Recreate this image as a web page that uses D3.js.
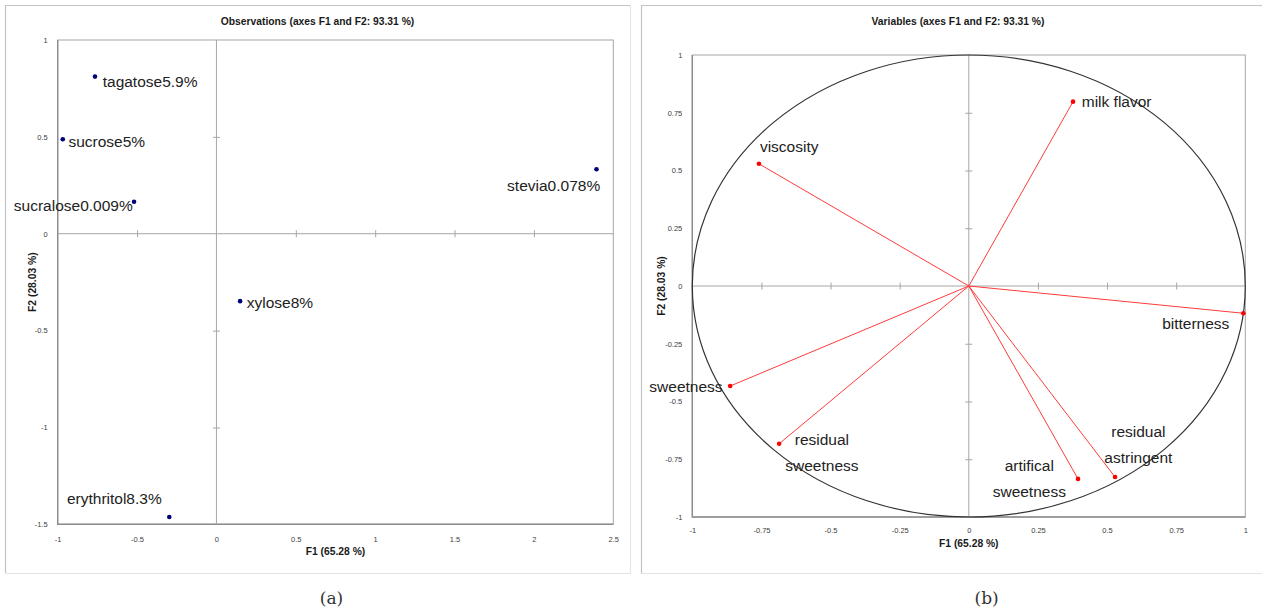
<!DOCTYPE html>
<html>
<head>
<meta charset="utf-8">
<script src="https://cdn.jsdelivr.net/npm/d3@7/dist/d3.min.js"></script>
<style>
  body { margin: 0; background: #fff; }
  svg { display: block; }
</style>
</head>
<body>
<svg id="chart" width="1262" height="614"></svg>
<script>
// ---- panel (a): observations ----
const obsNames = ["tagatose5.9%", "sucrose5%", "sucralose0.009%", "stevia0.078%", "xylose8%", "erythritol8.3%"];
const obsF1 = [-0.765, -0.968, -0.519, 2.394, 0.149, -0.297];
const obsF2 = [0.811, 0.488, 0.165, 0.333, -0.348, -1.462];
const obsXTicks = [-1, -0.5, 0, 0.5, 1, 1.5, 2, 2.5];
const obsYTicks = [1, 0.5, 0, -0.5, -1, -1.5];

// ---- panel (b): variables ----
const varNames = [["viscosity"], ["milk flavor"], ["bitterness"], ["sweetness"],
  ["residual", "sweetness"], ["artifical", "sweetness"], ["residual", "astringent"]];
const varF1 = [-0.759, 0.377, 0.993, -0.863, -0.686, 0.395, 0.529];
const varF2 = [0.529, 0.798, -0.118, -0.433, -0.683, -0.835, -0.827];
const varTicks = [-1, -0.75, -0.5, -0.25, 0, 0.25, 0.5, 0.75, 1];

const chartTitles = ["Observations (axes F1 and F2: 93.31 %)", "Variables (axes F1 and F2: 93.31 %)"];
const axisTitles = ["F1 (65.28 %)", "F2 (28.03 %)"];
const captions = ["(a)", "(b)"];

// label placement (pixels relative to the point)
const obsLabelPos = [
  { dx: 7.7, dy: 10.6, anchor: "start" },
  { dx: 5.6, dy: 7.4, anchor: "start" },
  { dx: -1.3, dy: 9, anchor: "end" },
  { dx: 3.7, dy: 21.4, anchor: "end" },
  { dx: 6.7, dy: 7.3, anchor: "start" },
  { dx: -7.6, dy: -12.7, anchor: "end" }
];
const varLabelPos = [
  { dx: 1, dy: -12, anchor: "start" },
  { dx: 8.7, dy: 5.6, anchor: "start" },
  { dx: -14, dy: 15.7, anchor: "end" },
  { dx: -7.6, dy: 5.7, anchor: "end" },
  { dx: 42.8, dy: 1.3, anchor: "middle" },
  { dx: -48.7, dy: -8, anchor: "middle" },
  { dx: 23.3, dy: -40.3, anchor: "middle" }
];

const LABEL_FONT = "Arial, 'Liberation Sans', sans-serif";
const svg = d3.select("#chart");

function drawPanel(cfg) {
  const g = svg.append("g");
  const { frame, plot } = cfg;

  // outer frame
  g.append("rect")
    .attr("x", frame.x0 + 0.5).attr("y", frame.y0 + 0.5)
    .attr("width", frame.x1 - frame.x0).attr("height", frame.y1 - frame.y0)
    .attr("fill", "none").attr("stroke", "#e3e3e3");
  g.append("path")
    .attr("d", `M${frame.x0 + 0.5},${frame.y1}V${frame.y0 + 0.5}H${frame.x1}`)
    .attr("fill", "none").attr("stroke", "#c4c4c4").attr("stroke-width", 1.2);

  const x = d3.scaleLinear().domain(cfg.xDomain).range([plot.x0, plot.x1]);
  const y = d3.scaleLinear().domain(cfg.yDomain).range([plot.y1, plot.y0]);

  // plot frame
  g.append("rect")
    .attr("x", plot.x0).attr("y", plot.y0)
    .attr("width", plot.x1 - plot.x0).attr("height", plot.y1 - plot.y0)
    .attr("fill", "none").attr("stroke", "#a6a6a6").attr("stroke-width", 1);
  g.append("path")
    .attr("d", `M${plot.x0},${plot.y0}V${plot.y1}H${plot.x1}`)
    .attr("fill", "none").attr("stroke", "#8c8c8c").attr("stroke-width", 1.4);

  // zero lines
  g.append("line").attr("x1", plot.x0).attr("x2", plot.x1)
    .attr("y1", y(0)).attr("y2", y(0)).attr("stroke", "#a6a6a6");
  g.append("line").attr("x1", x(0)).attr("x2", x(0))
    .attr("y1", plot.y0).attr("y2", plot.y1).attr("stroke", "#a6a6a6");

  // tick marks crossing the zero lines
  const innerX = cfg.xTicks.filter(v => v !== 0 && v !== cfg.xDomain[0] && v !== cfg.xDomain[1]);
  const innerY = cfg.yTicks.filter(v => v !== 0 && v !== cfg.yDomain[0] && v !== cfg.yDomain[1]);
  const tx = g.append("g").attr("transform", `translate(0,${y(0) - 3.5})`)
    .call(d3.axisBottom(x).tickValues(innerX).tickSize(7).tickFormat(""));
  const ty = g.append("g").attr("transform", `translate(${x(0) + 3.5},0)`)
    .call(d3.axisLeft(y).tickValues(innerY).tickSize(7).tickFormat(""));
  [tx, ty].forEach(a => {
    a.select(".domain").remove();
    a.selectAll("line").attr("stroke", "#a6a6a6");
  });

  // tick labels
  const lx = g.append("g").attr("transform", `translate(0,${plot.y1 + cfg.xLabelGap})`)
    .call(d3.axisBottom(x).tickValues(cfg.xTicks).tickSize(0).tickFormat(d => String(d)));
  const ly = g.append("g").attr("transform", `translate(${plot.x0 - cfg.yLabelGap},0)`)
    .call(d3.axisLeft(y).tickValues(cfg.yTicks).tickSize(0).tickFormat(d => String(d)));
  [lx, ly].forEach(a => {
    a.select(".domain").remove();
    a.selectAll("text").attr("font-family", LABEL_FONT).attr("font-size", 7.5).attr("fill", "#404040");
  });

  // titles
  g.append("text")
    .attr("x", (frame.x0 + frame.x1) / 2).attr("y", 25)
    .attr("text-anchor", "middle").attr("font-family", LABEL_FONT)
    .attr("font-weight", "bold").attr("font-size", 10.3).attr("fill", "#1a1a1a")
    .text(cfg.title);
  g.append("text")
    .attr("x", (plot.x0 + plot.x1) / 2).attr("y", cfg.xTitleY)
    .attr("text-anchor", "middle").attr("font-family", LABEL_FONT)
    .attr("font-weight", "bold").attr("font-size", 10.3).attr("fill", "#1a1a1a")
    .text(axisTitles[0]);
  g.append("text")
    .attr("transform", `translate(${cfg.yTitleX},${(plot.y0 + plot.y1) / 2}) rotate(-90)`)
    .attr("text-anchor", "middle").attr("font-family", LABEL_FONT)
    .attr("font-weight", "bold").attr("font-size", 10.3).attr("fill", "#1a1a1a")
    .text(axisTitles[1]);

  // caption
  g.append("text")
    .attr("x", cfg.captionX).attr("y", 604)
    .attr("text-anchor", "middle").attr("font-family", "'DejaVu Serif', serif")
    .attr("font-size", 17).attr("fill", "#333")
    .text(cfg.caption);

  return { g, x, y };
}

// panel (a)
const pa = drawPanel({
  frame: { x0: 5, y0: 5, x1: 630, y1: 573 },
  plot: { x0: 57.7, y0: 40, x1: 613.3, y1: 524.3 },
  xDomain: [-1, 2.5], yDomain: [-1.5, 1],
  xTicks: obsXTicks, yTicks: obsYTicks,
  xLabelGap: 9, yLabelGap: 7, xTitleY: 555, yTitleX: 36,
  title: chartTitles[0], caption: captions[0], captionX: 331.5
});

const obs = obsNames.map((name, i) => ({ name, f1: obsF1[i], f2: obsF2[i], pos: obsLabelPos[i] }));
pa.g.selectAll(".obs-dot").data(obs).enter().append("circle")
  .attr("class", "obs-dot")
  .attr("cx", d => pa.x(d.f1)).attr("cy", d => pa.y(d.f2))
  .attr("r", 2.3).attr("fill", "#00007a");
pa.g.selectAll(".obs-label").data(obs).enter().append("text")
  .attr("class", "obs-label")
  .attr("x", d => pa.x(d.f1) + d.pos.dx).attr("y", d => pa.y(d.f2) + d.pos.dy)
  .attr("text-anchor", d => d.pos.anchor)
  .attr("font-family", LABEL_FONT).attr("font-size", 15.5).attr("fill", "#222")
  .text(d => d.name);

// panel (b)
const pb = drawPanel({
  frame: { x0: 641, y0: 5, x1: 1275, y1: 573 },
  plot: { x0: 692.3, y0: 55, x1: 1245.3, y1: 517 },
  xDomain: [-1, 1], yDomain: [-1, 1],
  xTicks: varTicks, yTicks: varTicks,
  xLabelGap: 8, yLabelGap: 7, xTitleY: 546.7, yTitleX: 665,
  title: chartTitles[1], caption: captions[1], captionX: 986.7
});

// correlation circle
pb.g.append("ellipse")
  .attr("cx", pb.x(0)).attr("cy", pb.y(0))
  .attr("rx", pb.x(1) - pb.x(0)).attr("ry", pb.y(0) - pb.y(1))
  .attr("fill", "none").attr("stroke", "#333").attr("stroke-width", 1.2);

const vars = varNames.map((lines, i) => ({ lines, f1: varF1[i], f2: varF2[i], pos: varLabelPos[i] }));
pb.g.selectAll(".var-line").data(vars).enter().append("line")
  .attr("class", "var-line")
  .attr("x1", pb.x(0)).attr("y1", pb.y(0))
  .attr("x2", d => pb.x(d.f1)).attr("y2", d => pb.y(d.f2))
  .attr("stroke", "#ff3b3b").attr("stroke-width", 1);
pb.g.selectAll(".var-dot").data(vars).enter().append("circle")
  .attr("class", "var-dot")
  .attr("cx", d => pb.x(d.f1)).attr("cy", d => pb.y(d.f2))
  .attr("r", 2.3).attr("fill", "#ff0000");
const vlab = pb.g.selectAll(".var-label").data(vars).enter().append("text")
  .attr("class", "var-label")
  .attr("text-anchor", d => d.pos.anchor)
  .attr("font-family", LABEL_FONT).attr("font-size", 15.5).attr("fill", "#222");
vlab.selectAll("tspan").data(d => d.lines.map((t, k) => ({ t, k, d }))).enter().append("tspan")
  .attr("x", e => pb.x(e.d.f1) + e.d.pos.dx)
  .attr("y", e => pb.y(e.d.f2) + e.d.pos.dy + e.k * 26)
  .text(e => e.t);
</script>
</body>
</html>
